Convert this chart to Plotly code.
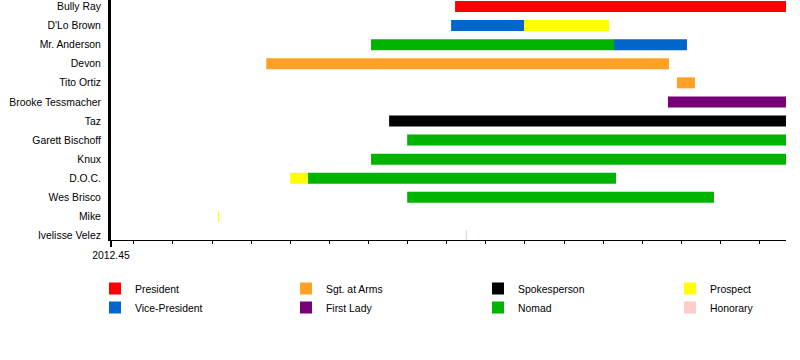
import plotly.graph_objects as go

# Members, top to bottom
members = ["Bully Ray", "D'Lo Brown", "Mr. Anderson", "Devon", "Tito Ortiz",
           "Brooke Tessmacher", "Taz", "Garett Bischoff", "Knux", "D.O.C.",
           "Wes Brisco", "Mike", "Ivelisse Velez"]

PERIOD_START = 2012.45
PERIOD_END = 2013.888

# Role segments (fractional years)
seg_member = ["Bully Ray", "D'Lo Brown", "D'Lo Brown", "Mr. Anderson", "Mr. Anderson",
              "Devon", "Tito Ortiz", "Brooke Tessmacher", "Taz", "Garett Bischoff",
              "Knux", "D.O.C.", "D.O.C.", "Wes Brisco", "Mike", "Ivelisse Velez"]
seg_role = ["President", "Vice-President", "Prospect", "Nomad", "Vice-President",
            "Sgt. at Arms", "Sgt. at Arms", "First Lady", "Spokesperson", "Nomad",
            "Nomad", "Prospect", "Nomad", "Nomad", "Prospect", "Honorary"]
seg_start = [2013.183, 2013.1745, 2013.330, 2013.004, 2013.5216,
             2012.7807, 2013.6557, 2013.6365, 2013.0425, 2013.081,
             2013.004, 2012.8317, 2012.8694, 2013.081, 2012.678, 2013.206]
seg_end = [PERIOD_END, 2013.330, 2013.511, 2013.5216, 2013.677,
           2013.6386, 2013.694, PERIOD_END, PERIOD_END, PERIOD_END,
           PERIOD_END, 2012.8694, 2013.5258, 2013.7345, 2012.6805, 2013.2085]

# Legend layout order (columns)
legend_columns = [["President", "Vice-President"],
                  ["Sgt. at Arms", "First Lady"],
                  ["Spokesperson", "Nomad"],
                  ["Prospect", "Honorary"]]
role_colors = {"President": "#ff0000", "Vice-President": "#0066cc",
               "Sgt. at Arms": "#ffa125", "First Lady": "#770077",
               "Spokesperson": "#000000", "Nomad": "#00b300",
               "Prospect": "#ffff00", "Honorary": "#ffcccc"}

row_of = {m: len(members) - 1 - i for i, m in enumerate(members)}

fig = go.Figure()
legend_names = ["legend", "legend2", "legend3", "legend4"]
for col, roles in enumerate(legend_columns):
    for role in roles:
        idx = [i for i, r in enumerate(seg_role) if r == role]
        fig.add_trace(go.Bar(
            orientation="h",
            name=role,
            y=[row_of[seg_member[i]] for i in idx],
            base=[seg_start[i] for i in idx],
            x=[seg_end[i] - seg_start[i] for i in idx],
            width=0.577,
            marker=dict(color=role_colors[role], line=dict(width=0)),
            legend=legend_names[col],
            hoverinfo="skip",
        ))

font = dict(family="Liberation Sans, Arial, sans-serif", size=10.4, color="#000000")
legend_x = [95, 286, 478, 670]
legend_common = dict(xref="container", yref="container", xanchor="left", yanchor="top",
                     orientation="v", font=font, bgcolor="rgba(0,0,0,0)",
                     tracegroupgap=0, itemclick=False)
layout_legends = {}
for name, lx in zip(legend_names, legend_x):
    layout_legends[name] = dict(x=lx / 800, y=1 - 274 / 360, **legend_common)

fig.update_layout(
    width=800, height=360,
    margin=dict(l=111, r=14, t=0, b=120, autoexpand=False),
    paper_bgcolor="white", plot_bgcolor="white",
    barmode="overlay",
    font=font,
    showlegend=True,
    hovermode=False,
    xaxis=dict(
        range=[PERIOD_START, PERIOD_END],
        showgrid=False, zeroline=False,
        showline=True, linecolor="black", linewidth=1,
        tickmode="array", tickvals=[PERIOD_START], ticktext=["2012.45"],
        ticks="outside", ticklen=6, tickwidth=2, tickcolor="black",
        minor=dict(ticks="outside", ticklen=3, tickwidth=1, tickcolor="black",
                   tick0=2012.4986, dtick=1 / 12, showgrid=False),
        fixedrange=True, automargin=False,
    ),
    yaxis=dict(
        range=[-0.236, 12.341],
        showgrid=False, zeroline=False,
        showline=True, linecolor="black", linewidth=3,
        tickmode="array", tickvals=list(range(len(members))),
        ticktext=list(reversed(members)),
        ticks="", ticklabelstandoff=5,
        fixedrange=True, automargin=False,
    ),
    **layout_legends,
)

fig.write_html("out.html",
               config={"displayModeBar": False, "staticPlot": True},
               post_script="document.body.style.margin='0';document.body.style.padding='0';")
